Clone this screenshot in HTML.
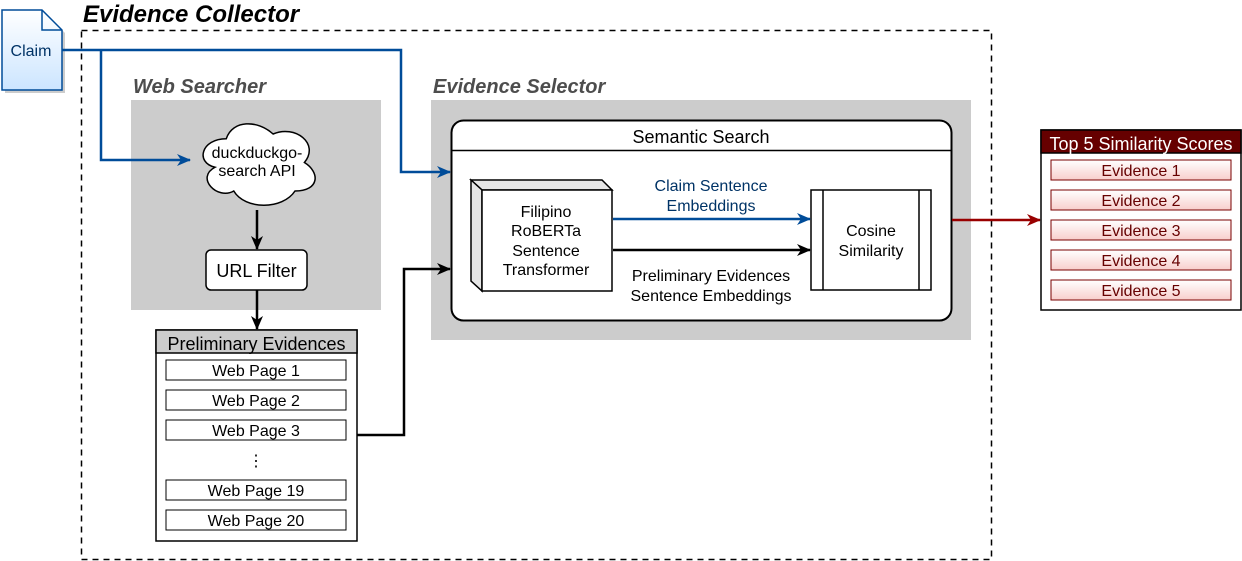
<!DOCTYPE html>
<html><head><meta charset="utf-8"><style>
html,body{margin:0;padding:0;background:#fff;}
svg, svg text{font-family:"Liberation Sans", Arial, Helvetica, sans-serif;}
svg{display:block;}
</style></head><body>
<svg width="1242" height="561" viewBox="0 0 1242 561" xmlns="http://www.w3.org/2000/svg" font-family="Liberation Sans, Arial, Helvetica, sans-serif">
<defs>
<linearGradient id="gb" x1="0" y1="0" x2="0" y2="1"><stop offset="0" stop-color="#ffffff"/><stop offset="1" stop-color="#cce5ff"/></linearGradient>
<linearGradient id="gr" x1="0" y1="0" x2="0" y2="1"><stop offset="0" stop-color="#ffffff"/><stop offset="1" stop-color="#f8cecc"/></linearGradient>
<marker id="ab" markerWidth="14" markerHeight="12" refX="13" refY="6" orient="auto" markerUnits="userSpaceOnUse"><path d="M0,0 L14,6 L0,12 L4,6 Z" fill="#004c99"/></marker>
<marker id="ak" markerWidth="14" markerHeight="12" refX="13" refY="6" orient="auto" markerUnits="userSpaceOnUse"><path d="M0,0 L14,6 L0,12 L4,6 Z" fill="#000"/></marker>
<marker id="ar" markerWidth="14" markerHeight="12" refX="13" refY="6" orient="auto" markerUnits="userSpaceOnUse"><path d="M0,0 L14,6 L0,12 L4,6 Z" fill="#990000"/></marker>
</defs>

<text x="83" y="22" font-size="24" font-weight="bold" font-style="italic">Evidence Collector</text>
<rect x="81.5" y="30.5" width="910" height="529" fill="none" stroke="#000" stroke-width="1.5" stroke-dasharray="6,5"/>

<text x="133" y="93" font-size="20" font-weight="bold" font-style="italic" fill="#4d4d4d">Web Searcher</text>
<rect x="131" y="100" width="250" height="210" fill="#cccccc"/>
<text x="433" y="93" font-size="20" font-weight="bold" font-style="italic" fill="#4d4d4d">Evidence Selector</text>
<rect x="431" y="100" width="540" height="240" fill="#cccccc"/>

<path d="M5,13 L45,13 L65,33 L65,93 L5,93 Z" fill="#999" opacity="0.5"/>
<path d="M2,10 L42,10 L62,30 L62,90 L2,90 Z" fill="url(#gb)" stroke="#004c99" stroke-width="1.5"/>
<path d="M42,10 L42,30 L62,30" fill="none" stroke="#004c99" stroke-width="1.5"/>
<text x="31" y="56" font-size="16" text-anchor="middle" fill="#003366">Claim</text>

<path d="M62,50 L401,50 L401,172 L450,172" fill="none" stroke="#004c99" stroke-width="2.5" marker-end="url(#ab)"/>
<path d="M101,50 L101,160 L190,160" fill="none" stroke="#004c99" stroke-width="2.5" marker-end="url(#ab)"/>

<path d="M226.25,138.75 C201.25,138.75 195,162.5 215,167.25 C195,177.7 217.5,200.5 233.75,191 C245,210 282.5,210 295,191 C320,191 320,172 304.4,162.5 C320,143.5 295,124.5 273.1,134 C257.5,119.75 232.5,119.75 226.25,138.75 Z" fill="#fff" stroke="#000" stroke-width="1.5"/>
<text x="257" y="158" font-size="16" text-anchor="middle">duckduckgo-</text>
<text x="257" y="176" font-size="16" text-anchor="middle">search API</text>

<path d="M257,210 L257,249" stroke="#000" stroke-width="2.5" marker-end="url(#ak)"/>
<rect x="206" y="250" width="101" height="40" rx="5" fill="#fff" stroke="#000" stroke-width="1.5"/>
<text x="256.5" y="277" font-size="18" text-anchor="middle">URL Filter</text>
<path d="M257,290 L257,329" stroke="#000" stroke-width="2.5" marker-end="url(#ak)"/>

<rect x="156" y="330" width="201" height="211" fill="#fff" stroke="#000" stroke-width="1.5"/>
<rect x="156" y="330" width="201" height="23" fill="#cccccc" stroke="#000" stroke-width="1.5"/>
<text x="256.5" y="350" font-size="18" text-anchor="middle">Preliminary Evidences</text>
<g font-size="16" text-anchor="middle" fill="#000">
<rect x="166" y="360" width="180" height="20" fill="#fff" stroke="#000"/><text x="256" y="376">Web Page 1</text>
<rect x="166" y="390" width="180" height="20" fill="#fff" stroke="#000"/><text x="256" y="406">Web Page 2</text>
<rect x="166" y="420" width="180" height="20" fill="#fff" stroke="#000"/><text x="256" y="436">Web Page 3</text>
<text x="256" y="466">⋮</text>
<rect x="166" y="480" width="180" height="20" fill="#fff" stroke="#000"/><text x="256" y="496">Web Page 19</text>
<rect x="166" y="510" width="180" height="20" fill="#fff" stroke="#000"/><text x="256" y="526">Web Page 20</text>
</g>
<path d="M357,435 L404,435 L404,269 L450,269" fill="none" stroke="#000" stroke-width="2.5" marker-end="url(#ak)"/>

<rect x="451.5" y="120.5" width="500" height="200" rx="12" fill="#fff" stroke="#000" stroke-width="2"/>
<line x1="451.5" y1="150.5" x2="951.5" y2="150.5" stroke="#000" stroke-width="1.5"/>
<text x="701" y="143" font-size="18" text-anchor="middle">Semantic Search</text>

<path d="M471,180 L602,180 L612,190 L482,190 Z" fill="#e6e6e6" stroke="#000" stroke-width="1.5"/>
<path d="M471,180 L482,190 L482,291 L471,281 Z" fill="#e6e6e6" stroke="#000" stroke-width="1.5"/>
<rect x="482" y="190" width="130" height="101" fill="#fff" stroke="#000" stroke-width="1.5"/>
<g font-size="16" text-anchor="middle">
<text x="546" y="217">Filipino</text>
<text x="546" y="236">RoBERTa</text>
<text x="546" y="256">Sentence</text>
<text x="546" y="275">Transformer</text>
</g>

<rect x="811" y="190" width="120" height="100" fill="#fff" stroke="#000" stroke-width="1.5"/>
<line x1="823" y1="190" x2="823" y2="290" stroke="#000" stroke-width="1.5"/>
<line x1="919" y1="190" x2="919" y2="290" stroke="#000" stroke-width="1.5"/>
<text x="871" y="236" font-size="16" text-anchor="middle">Cosine</text>
<text x="871" y="256" font-size="16" text-anchor="middle">Similarity</text>

<path d="M613,219 L810,219" stroke="#004c99" stroke-width="2.5" marker-end="url(#ab)"/>
<text x="711" y="191" font-size="16" text-anchor="middle" fill="#003366">Claim Sentence</text>
<text x="711" y="211" font-size="16" text-anchor="middle" fill="#003366">Embeddings</text>
<path d="M613,250 L810,250" stroke="#000" stroke-width="2.5" marker-end="url(#ak)"/>
<text x="711" y="281" font-size="16" text-anchor="middle">Preliminary Evidences</text>
<text x="711" y="301" font-size="16" text-anchor="middle">Sentence Embeddings</text>

<path d="M952,220 L1040,220" stroke="#990000" stroke-width="2.5" marker-end="url(#ar)"/>

<rect x="1041" y="130" width="200" height="180" fill="#fff" stroke="#000" stroke-width="1.5"/>
<rect x="1041" y="130" width="200" height="23" fill="#660000" stroke="#000" stroke-width="1.5"/>
<text x="1141" y="150" font-size="18" text-anchor="middle" fill="#fff">Top 5 Similarity Scores</text>
<g font-size="16" text-anchor="middle" fill="#660000">
<rect x="1051" y="160" width="180" height="20" fill="url(#gr)" stroke="#7a0000"/><text x="1141" y="176">Evidence 1</text>
<rect x="1051" y="190" width="180" height="20" fill="url(#gr)" stroke="#7a0000"/><text x="1141" y="206">Evidence 2</text>
<rect x="1051" y="220" width="180" height="20" fill="url(#gr)" stroke="#7a0000"/><text x="1141" y="236">Evidence 3</text>
<rect x="1051" y="250" width="180" height="20" fill="url(#gr)" stroke="#7a0000"/><text x="1141" y="266">Evidence 4</text>
<rect x="1051" y="280" width="180" height="20" fill="url(#gr)" stroke="#7a0000"/><text x="1141" y="296">Evidence 5</text>
</g>
</svg>
</body></html>
